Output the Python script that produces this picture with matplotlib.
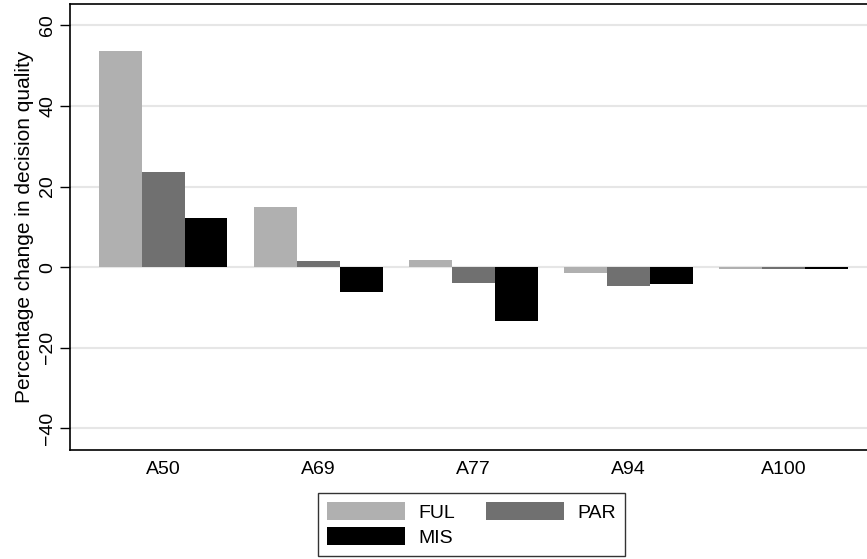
import matplotlib.pyplot as plt
import numpy as np

plt.rcParams['font.family'] = ['Liberation Sans', 'DejaVu Sans']

categories = ["A50", "A69", "A77", "A94", "A100"]
ful = [53.6, 14.9, 1.8, -1.4, -0.4]
par = [23.5, 1.4, -3.9, -4.6, -0.4]
mis = [12.2, -6.3, -13.4, -4.1, -0.4]

series = [("FUL", ful, "#b0b0b0"), ("PAR", par, "#707070"), ("MIS", mis, "#000000")]

fig = plt.figure(figsize=(8.67, 5.59), dpi=100, facecolor='white')
ax = fig.add_axes([70 / 867, 109 / 559, 797 / 867, 446 / 559])

x = np.arange(len(categories))
w = 0.277
handles = {}
for i, (name, vals, col) in enumerate(series):
    handles[name] = ax.bar(x + (i - 1) * w, vals, width=w, color=col, linewidth=0, zorder=3)

ax.set_xlim(-0.6, 4.54)
ax.set_ylim(-45.4, 65.3)
ax.set_yticks([-40, -20, 0, 20, 40, 60])
ax.set_yticklabels(["\u221240", "\u221220", "0", "20", "40", "60"], rotation=90, va='center')
ax.set_xticks(x)
ax.set_xticklabels(categories)
ax.tick_params(axis='x', length=0, labelsize=14, pad=8)
ax.tick_params(axis='y', length=7, width=1, labelsize=14, pad=3)
ax.grid(axis='y', color='#e6e6e6', linewidth=1.5, zorder=0)
ax.set_axisbelow(True)

for s in ['left', 'bottom', 'top']:
    ax.spines[s].set_linewidth(1.2)
ax.spines['right'].set_visible(False)

ax.set_ylabel("Percentage change in decision quality", fontsize=15, labelpad=4)

# legend order gives FUL PAR on first row, MIS below
leg = fig.legend([handles["FUL"], handles["MIS"], handles["PAR"]], ["FUL", "MIS", "PAR"],
                 ncol=2, loc='center', bbox_to_anchor=(471.5 / 867, 0.0617),
                 fontsize=14, frameon=True, fancybox=False, edgecolor='black',
                 handlelength=4.0, handleheight=1.05, columnspacing=1.6,
                 labelspacing=0.3, borderpad=0.45, handletextpad=0.7)
leg.get_frame().set_linewidth(1.0)

fig.savefig("out.png", dpi=100, facecolor='white')
